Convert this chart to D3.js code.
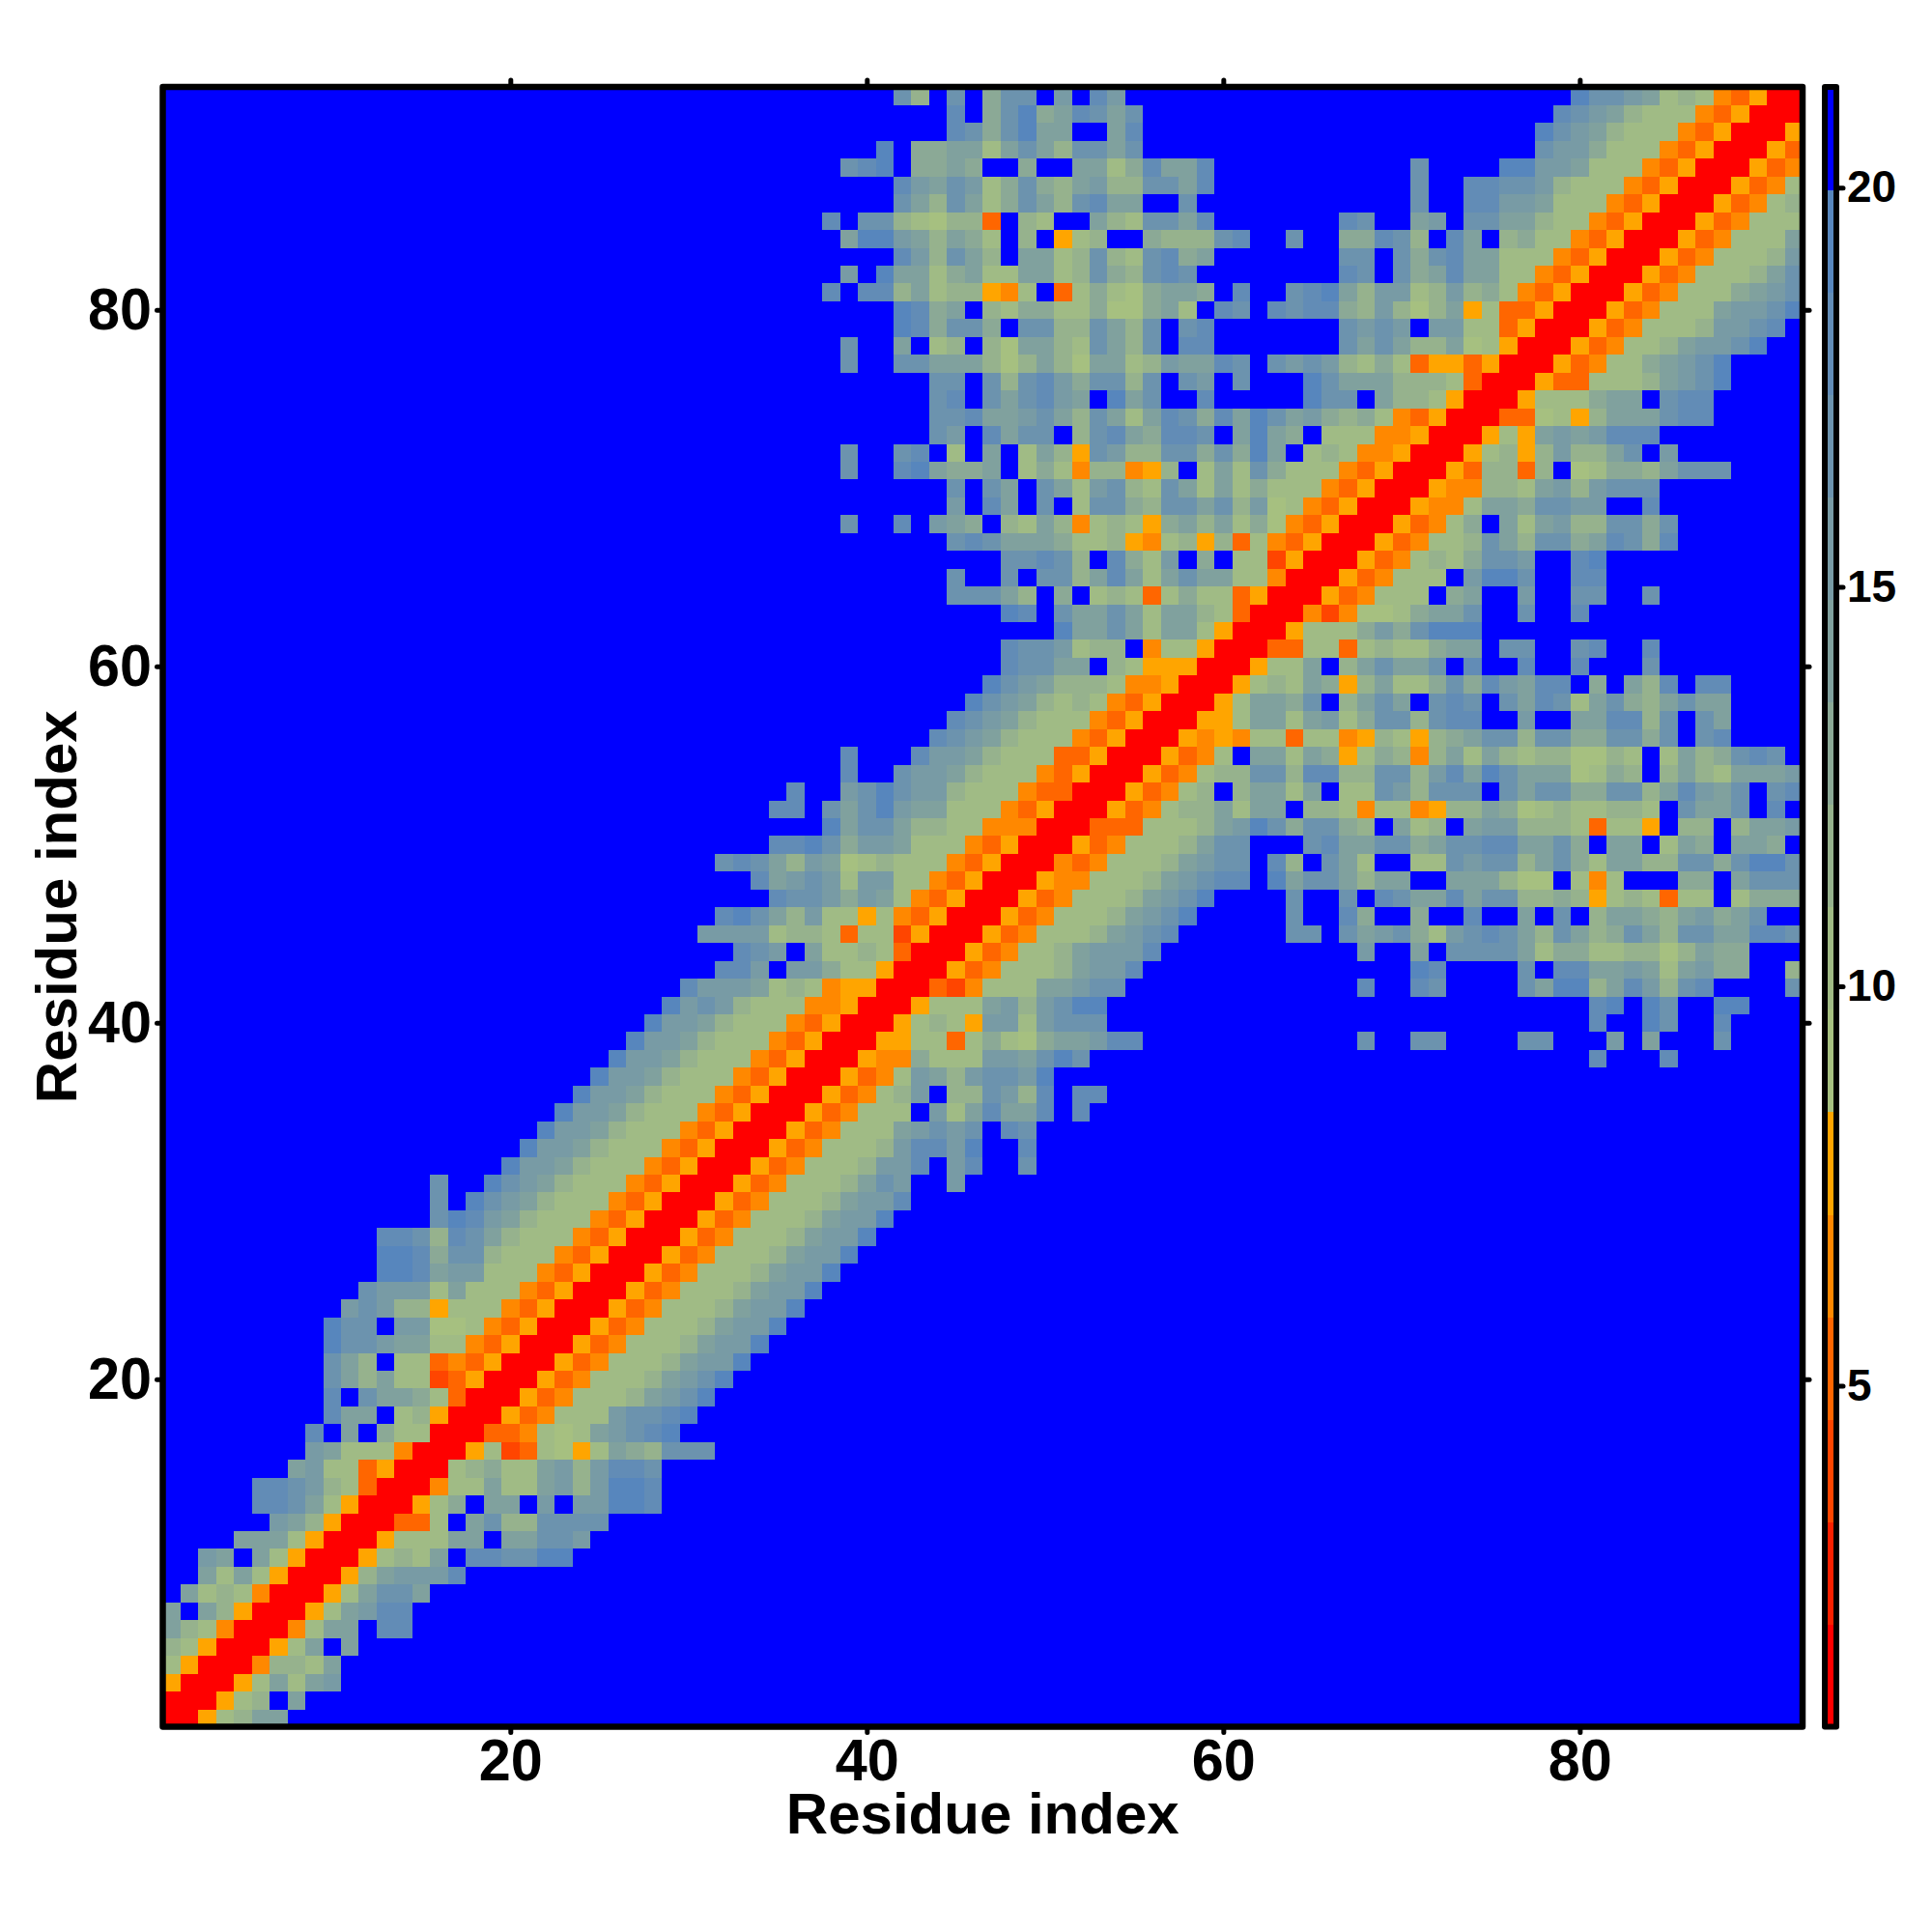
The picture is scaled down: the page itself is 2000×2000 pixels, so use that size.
<!DOCTYPE html>
<html><head><meta charset="utf-8">
<script src="https://cdn.jsdelivr.net/npm/d3@7/dist/d3.min.js"></script>
<style>html,body{margin:0;background:#fff}svg{display:block}text{font-family:"Liberation Sans",Arial,sans-serif;font-weight:700;fill:#000}</style>
</head><body><svg id="c" width="2000" height="2000"></svg>
<script>
// Residue-residue distance map. Each row r lists bins for columns c >= r
// as "startColumn:hexbins" segments; the map is symmetric. Absent cells are in the top bin (f).
const residueCount = 92;
const axisTicks = [20, 40, 60, 80];
const colorbarTicks = [5, 10, 15, 20];
const axisTitle = "Residue index";
const valueRange = [0.73, 21.26];
const binColors = ["#ff0000","#fa2000","#ff4500","#ff6600","#ff8800","#ffa500","#a6c080","#a0bb85","#96b28d","#8ba996","#80a19e","#789ba5","#6c93ae","#628cb6","#5786bd","#0000ff"];
const distanceRows = [
"1:00578aa","2:00578fa","3:0057a7ab","4:004887a","5:0057afa","6:0047aafdd","7:0057abdd","8:0057acca","9:0058abbbd",
"10:005787afddccee","11:005777aafaaccb","12:00337fac88cccc","13:00579faafbfbbeed","14:00477a77ab8beed","15:0078977ab8bddc",
"16:0057237657a98ccc","17:00334767abcde","18:00534777bccde","19:005347778abce","20:005347778abce","21:005347778abbe",
"22:005347778abbe","23:005347778abbe","24:005347778abbe","25:005347778abbe","26:005347778abbe","27:005347778abbe",
"28:005347778abbe","29:005347778abbe","30:005347778abbd","31:005347778acbffb","32:005347778bbdfbdffc","33:005347778bddbeffd",
"34:00534777abcbcfdc","35:00534777fb7adaadfd","36:0053478bf88cb8dfdd","37:005347ba8bccbe",
"38:005449777bbacec;81:d;85:d",
"39:005577379769aabdd;68:c;71:cc;77:cc;82:b;84:a;88:c",
"40:0057875bb7bccc;81:d;84:ec;88:d",
"41:005777ab8bcee;81:de;84:ec;88:ee",
"42:00324777aabcc;68:d;71:dc;77:caee8adb8cd;92:c",
"43:005347778abbd;71:ed;77:c;79:ddaaba7ab99;92:8",
"44:00534778abbbd;68:b;71:a;73:cccca799778868a99",
"45:005347778abcd;64:cc;67:cabc97bcdca8ca89ca8ccaaddc",
"46:005347778abce;64:c;67:d9;71:9;74:d;77:a;79:c;81:8aa98ab9ac",
"47:005347778abce;64:c;67:c;69:dcaadacc88985787377;89:7999",
"48:005447778abcdd;63:eacca8aa;73:aaa866;80:747;86:99;89:accc",
"49:004347778abcc;63:d8;66:ca7;71:77cbcc8ac97aa88cc9ceec",
"50:005347778acc;65:cdaacc9accddaac9;82:aa;85:7a9;89:aa9",
"51:003337778abec9cc98;70:a78;74:abb88873775;86:88;89:8aab",
"52:00534788a7aaf8874774588a967877887fcaacfd",
"53:0053478f8aa7af77cb8cccfcacc99cc8adbacfcd",
"54:00534788cc8dd88cc8bdaecaaa6798f8a87aaab",
"55:005347faa7a9579848a7a87886687f7a89cdc",
"56:005454773774587589acc8cc99cc9cfcd",
"57:00557aa7ab79cc8cddffbffaadd8cfca",
"58:0057aa9cf8acafcdcfcadc7ac98acaa",
"59:005787a958a779c9dbaddf9fa8dfdd",
"60:00577af8acaacfd;77:d;80:d;84:c",
"61:003377378779aafcc;80:cd;84:d",
"62:0057779b9ceee","63:004246679aac;77:c;80:d","64:00534777f9a;77:b;80:cc;84:c","65:00534777fbeec;80:dd","66:005347879ccb;80:de",
"67:00534778ca8cc9adc9d","68:0053479fa7ab88cc9c","69:005447aa9ccbbffd","70:00544887ab8bccc","71:00538838f67998accc",
"72:0057858b88acfb","73:00575ababddd","74:00336758aaacdd","75:0057779aafcdd","76:005337778abce","77:00534779abce",
"78:00534778abbce","79:005347778bbcd","80:00534777abbce","81:005347779abc","82:005347778ac","83:005347778b",
"84:00534777a","85:00534777","86:0053478","87:005347","88:00534","89:0053","90:005","91:00","92:0"
];

const binWidth = (valueRange[1]-valueRange[0])/binColors.length;
const binValue = b => valueRange[0]+(b+0.5)*binWidth;
const grid = d3.range(residueCount).map(()=>new Array(residueCount).fill(binColors.length-1));
distanceRows.forEach((row,i)=>{
  const r=i+1;
  row.split(";").forEach(seg=>{
    const [start,codes]=seg.split(":");
    [...codes].forEach((ch,k)=>{
      const c=+start+k, b=parseInt(ch,16);
      grid[r-1][c-1]=b; grid[c-1][r-1]=b;
    });
  });
});
const cells=[];
grid.forEach((row,y)=>row.forEach((b,x)=>cells.push({x:x+1,y:y+1,v:binValue(b)})));

const L=168.5,R=1866,T=90,B=1787.5;
const x=d3.scaleLinear([0.5,residueCount+0.5],[L,R]);
const y=d3.scaleLinear([0.5,residueCount+0.5],[B,T]);
const color=d3.scaleQuantize().domain(valueRange).range(binColors);
const svg=d3.select("#c");

svg.append("g").attr("shape-rendering","crispEdges").selectAll("rect").data(cells).join("rect")
  .attr("x",d=>x(d.x-.5)).attr("y",d=>y(d.y+.5))
  .attr("width",d=>x(d.x+.5)-x(d.x-.5)+.5).attr("height",d=>y(d.y-.5)-y(d.y+.5)+.5)
  .attr("fill",d=>color(d.v));

function styleAxis(g,size,len){
  g.select(".domain").remove();
  g.selectAll(".tick line").attr("stroke","#000").attr("stroke-width",5).attr("stroke-linecap","round");
  const t=g.selectAll("text").attr("font-size",size).attr("fill","#000");
  if(len) t.attr("textLength",len).attr("lengthAdjust","spacingAndGlyphs");
}
const noLabel=()=>"";
svg.append("g").attr("transform",`translate(0,${B})`).call(d3.axisBottom(x).tickValues(axisTicks).tickSize(6).tickPadding(6.5)).call(styleAxis,61,66);
svg.append("g").attr("transform",`translate(0,${T})`).call(d3.axisTop(x).tickValues(axisTicks).tickSize(7).tickFormat(noLabel)).call(styleAxis,61);
svg.append("g").attr("transform",`translate(${L},0)`).call(d3.axisLeft(y).tickValues(axisTicks).tickSize(6).tickPadding(5.5)).call(styleAxis,61,66);
svg.append("g").attr("transform",`translate(${R},0)`).call(d3.axisRight(y).tickValues(axisTicks).tickSize(7).tickFormat(noLabel)).call(styleAxis,61);
svg.append("rect").attr("x",L).attr("y",T).attr("width",R-L).attr("height",B-T)
  .attr("fill","none").attr("stroke","#000").attr("stroke-width",6.5).attr("stroke-linejoin","round");

svg.append("text").attr("x",(L+R)/2).attr("y",1898).attr("text-anchor","middle").attr("font-size",60).text(axisTitle);
svg.append("text").attr("transform",`translate(79,${(T+B)/2}) rotate(-90)`).attr("text-anchor","middle").attr("font-size",60).text(axisTitle);

// colour bar
const cbY=d3.scaleLinear(valueRange,[B,T]);
const cbL=1889,cbR=1901;
svg.append("g").attr("shape-rendering","crispEdges").selectAll("rect").data(binColors).join("rect")
  .attr("x",cbL).attr("width",cbR-cbL)
  .attr("y",(d,i)=>cbY(valueRange[0]+(i+1)*binWidth))
  .attr("height",binWidth*(B-T)/(valueRange[1]-valueRange[0])+.5)
  .attr("fill",d=>d);
svg.append("g").attr("transform",`translate(${cbR},0)`)
  .call(d3.axisRight(cbY).tickValues(colorbarTicks).tickSize(7).tickPadding(4)).call(styleAxis,46);
svg.append("rect").attr("x",cbL).attr("y",T).attr("width",cbR-cbL).attr("height",B-T)
  .attr("fill","none").attr("stroke","#000").attr("stroke-width",6).attr("stroke-linejoin","round");
</script></body></html>
